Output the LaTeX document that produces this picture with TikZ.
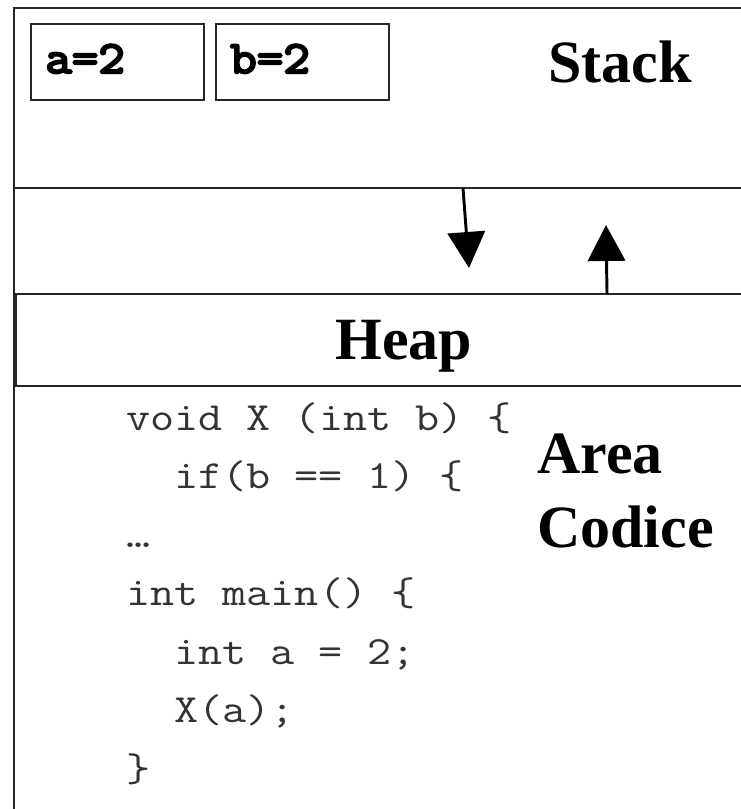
\documentclass[tikz,border=0pt]{standalone}
\usepackage{fontspec}
\setmainfont{Liberation Serif}
\newfontfamily\codefont{Latin Modern Mono}[FakeStretch=1.17]
\newfontfamily\varfont{Latin Modern Mono}[FakeStretch=1.12, FakeBold=5]
\usetikzlibrary{arrows.meta}
\begin{document}
\begin{tikzpicture}[x=0.75pt,y=-0.75pt,
  frame/.style={line width=1.6pt, draw=black!85},
  varbox/.style={frame, minimum width=129.75pt, minimum height=57pt, inner sep=0pt, anchor=north west},
  vartext/.style={font=\varfont\fontsize{34.5}{34.5}\selectfont, inner sep=0pt, anchor=base west},
  title/.style={font=\bfseries\fontsize{45}{45}\selectfont, inner sep=0pt},
  code/.style={font=\codefont\fontsize{30}{30}\selectfont, inner sep=0pt, anchor=base west, text=black!80},
  flow/.style={line width=2.2pt, -{Triangle[width=28pt,length=27pt]}}
]
\useasboundingbox (0,0) rectangle (740,809);
% outer frame of the stack region
\draw[frame] (760,8) -- (14,8) -- (14,820);
\draw[frame] (14,188) -- (760,188);
% heap band
\draw[frame] (16,294) rectangle (760,386);
% variable boxes
\node[varbox] (boxa) at (30,23) {};
\node[varbox] (boxb) at (215,23) {};
\node[vartext] (texta) at (45,73) {a=2};
\node[vartext] (textb) at (230,73) {b=2};
% titles
\node[title, anchor=base west] (stack) at (548,83) {Stack};
\node[title, anchor=base] (heap) at (404,359) {Heap};
\node[title, anchor=base west] (area) at (537,473) {Area};
\node[title, anchor=base west] (codice) at (537,547) {Codice};
% growth arrows
\coordinate (d1) at (463,188);
\coordinate (d2) at (469,268);
\coordinate (u1) at (607,294);
\coordinate (u2) at (606,225);
\draw[flow] (d1) -- (d2);
\draw[flow] (u1) -- (u2);
% code
\node[code] (c1) at (126,430) {void X (int b) \{};
\node[code] (c2) at (174,488.5) {if(b == 1) \{};
\node[code] (c3) at (126,547) {…};
\node[code] (c4) at (126,605.5) {int main() \{};
\node[code] (c5) at (174,664) {int a = 2;};
\node[code] (c6) at (174,722.5) {X(a);};
\node[code] (c7) at (126,781) {\}};
\end{tikzpicture}
\end{document}
